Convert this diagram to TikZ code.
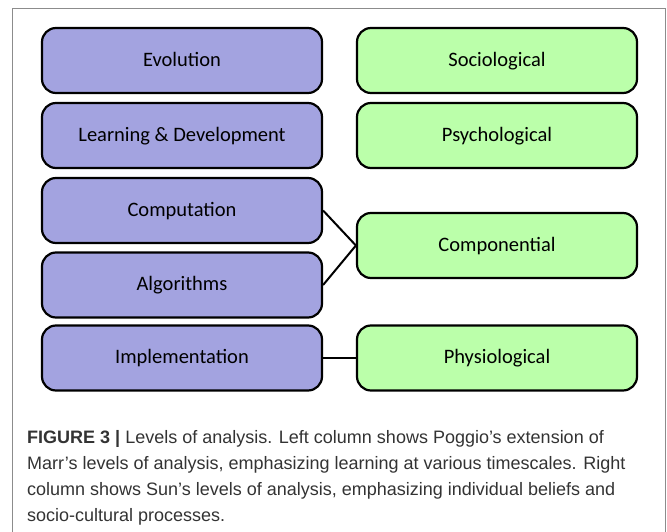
\documentclass[tikz,border=0pt]{standalone}
\usepackage{fontspec}
\setmainfont{Liberation Sans}
\newfontfamily\boxfont{Carlito}
\definecolor{poggio}{RGB}{163,163,224}
\definecolor{sun}{RGB}{187,255,170}

\begin{document}
\begin{tikzpicture}[x=1pt,y=-1pt,
    level/.style={draw,rounded corners=14pt,line width=2.2pt,
      minimum width=280pt,minimum height=65pt,text height=2.3ex,text depth=.1ex,
      font=\boxfont\fontsize{20.5}{22}\selectfont}]
  \useasboundingbox (0,0) rectangle (667,532);
  \draw[black!45,line width=1pt] (12,532) -- (12,8.5) -- (665,8.5) -- (665,532);
      \node[level,fill=poggio] (evo) at (182,60.5) {Evolution};
      \node[level,fill=poggio] (learn) at (182,135.5) {Learning \& Development};
      \node[level,fill=poggio] (comp) at (182,210.5) {Computation};
      \node[level,fill=poggio] (algo) at (182,285) {Algorithms};
      \node[level,fill=poggio] (impl) at (182,358) {Implementation};
      \node[level,fill=sun] (socio) at (497,60.5) {Sociological};
      \node[level,fill=sun] (psych) at (497,135.5) {Psychological};
      \node[level,fill=sun] (compo) at (497,245.5) {Componential};
      \node[level,fill=sun] (physio) at (497,358) {Physiological};
    \draw[line width=2pt] (comp.east) -- (compo.west);
    \draw[line width=2pt] (algo.east) -- (compo.west);
    \draw[line width=2pt] (impl.east) -- (physio.west);
  \node[anchor=north west,align=left,inner sep=0pt,text=black!80,
    font=\fontsize{18}{26}\selectfont] (caption) at (27,430)
    {\textbf{FIGURE 3 |} Levels of analysis. Left column shows Poggio's extension of\\
     Marr's levels of analysis, emphasizing learning at various timescales. Right\\
     column shows Sun's levels of analysis, emphasizing individual beliefs and\\
     socio-cultural processes.};
\end{tikzpicture}
\end{document}
